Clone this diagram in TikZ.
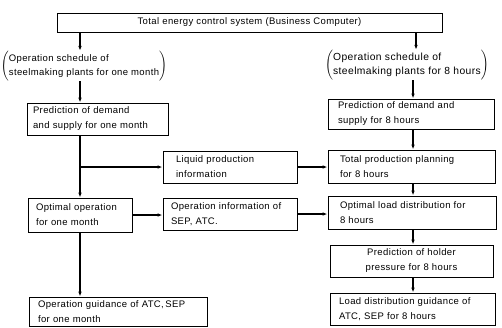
\documentclass[tikz,border=0pt]{standalone}
\usepackage{fontspec}
\setmainfont{Liberation Sans}[LetterSpace=4]
\usetikzlibrary{arrows.meta}
\newcommand\fbx[8]{% name x1 y1 x2 y2 indent align text
  \pgfmathsetmacro\fbxw{#4-#2}%
  \pgfmathsetmacro\fbxh{#5-#3}%
  \pgfmathsetmacro\fbxt{#4-#2-2*#6}%
  \node[bx,minimum width=\fbxw pt,minimum height=\fbxh pt,text width=\fbxt pt,inner xsep=#6pt,align=#7] (#1) at ({(#2+#4)/2},{(#3+#5)/2}) {#8};}
\begin{document}
\begin{tikzpicture}[x=1pt,y=-1pt,
  bx/.style={draw,line width=0.9pt,inner ysep=0pt,font=\fontsize{9.5}{15}\selectfont},
  arr/.style={line width=1.1pt,-{Latex[length=5pt,width=3.6pt]}},
  note/.style={inner sep=0pt}]
\useasboundingbox (0,0) rectangle (502,327);
\coordinate (lc) at (80,0);
\coordinate (rc) at (413,0);
\coordinate (tc) at (416,0);
% boxes
\fbx{top}{57}{13}{442}{32}{4}{center}{Total energy control system (Business Computer)}
\node[note,font=\fontsize{9.5}{14}\selectfont] (p1) at (84,66) {$\left(\begin{tabular}{@{}l@{}}Operation schedule of\\ steelmaking plants for one month\end{tabular}\right)$};
\node[note,font=\fontsize{10.3}{14}\selectfont] (p2) at (407,65) {$\left(\begin{tabular}{@{}l@{}}Operation schedule of\\ steelmaking plants for 8 hours\end{tabular}\right)$};
\fbx{pred1}{27}{103}{168}{135}{6}{left}{Prediction of demand\\ and supply for one month}
\fbx{pred8}{328}{99}{494}{129}{10}{left}{Prediction of demand and\\ supply for 8 hours}
\fbx{liq}{163}{151}{297}{183}{13}{left}{Liquid production\\ information}
\fbx{tpp}{328}{150}{495}{183}{12}{left}{Total production planning\\ for 8 hours}
\fbx{opt}{28}{198}{132}{232}{8}{left}{Optimal operation\\ for one month}
\fbx{opinfo}{163}{198}{297}{230}{8}{left}{Operation information of\\ SEP, ATC.}
\fbx{old}{328}{196}{496}{229}{12}{left}{Optimal load distribution for\\ 8 hours}
\fbx{hold}{330}{245}{493}{277}{8}{center}{Prediction of holder\\ pressure for 8 hours}
\fbx{guid}{29}{297}{207}{326}{9}{left}{Operation guidance of ATC,\,SEP\\ for one month}
\fbx{ldg}{330}{293}{495}{325}{9}{left}{Load distribution guidance of\\ ATC, SEP for 8 hours}
% connectors
\draw[arr] (top.south -| lc) -- (p1.north -| lc);
\draw[arr] (top.south -| tc) -- (p2.north -| tc);
\draw[arr] (p1.south -| lc) -- (pred1.north -| lc);
\draw[arr] (p2.south -| rc) -- (pred8.north -| rc);
\draw[arr] (pred1.south -| lc) -- (opt.north -| lc);
\draw[arr] (lc |- liq.west) -- (liq.west);
\draw[arr] (liq.east) -- (liq.east -| tpp.west);
\draw[arr] (pred8.south -| rc) -- (tpp.north -| rc);
\draw[arr] (tpp.south -| rc) -- (old.north -| rc);
\draw[arr] (opt.east) -- (opt.east -| opinfo.west);
\draw[arr] (opinfo.east) -- (opinfo.east -| old.west);
\draw[arr] (old.south -| rc) -- (hold.north -| rc);
\draw[arr] (hold.south -| rc) -- (ldg.north -| rc);
\draw[arr] (opt.south -| lc) -- (guid.north -| lc);
\end{tikzpicture}
\end{document}
